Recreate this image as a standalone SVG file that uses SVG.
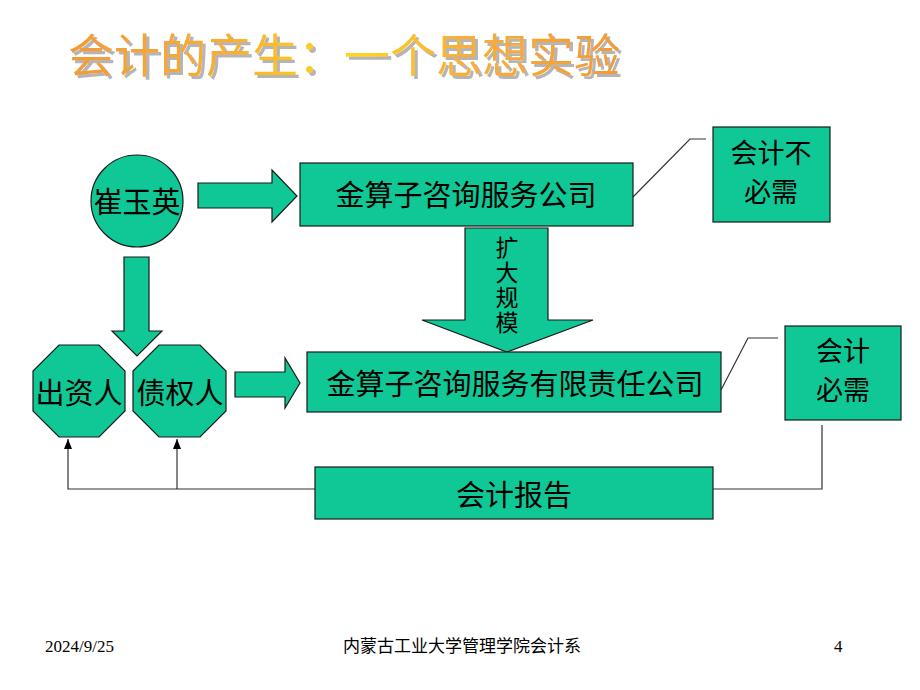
<svg xmlns="http://www.w3.org/2000/svg" width="920" height="690" viewBox="0 0 920 690">
<defs>
<linearGradient id="tg" gradientUnits="userSpaceOnUse" x1="68" y1="0" x2="625" y2="0">
<stop offset="0" stop-color="#F29A3A"/>
<stop offset="0.3" stop-color="#F8B030"/>
<stop offset="0.5" stop-color="#FFD81E"/>
<stop offset="0.7" stop-color="#F8B038"/>
<stop offset="1" stop-color="#F29A3A"/>
</linearGradient>
<filter id="shadow" x="-5%" y="-20%" width="110%" height="140%">
<feDropShadow dx="3" dy="3" stdDeviation="0.3" flood-color="#b5b5b5" flood-opacity="1"/>
</filter>
<marker id="ah" viewBox="0 0 10 10" refX="10" refY="5" markerWidth="10" markerHeight="10" markerUnits="userSpaceOnUse" orient="auto">
<path d="M0,1 L10,5 L0,9 Z" fill="#000"/>
</marker>
<style>
.sh{fill:#0FC896;stroke:#1a1a1a;stroke-width:1.2}
.t{font-family:"Noto Sans CJK SC","Noto Sans",sans-serif;font-size:29px;fill:#000;text-anchor:middle}
.t2{font-family:"Noto Sans CJK SC","Noto Sans",sans-serif;font-size:27px;fill:#000;text-anchor:middle}
.ln{fill:none;stroke:#333;stroke-width:1.2}
.ft{font-family:"Liberation Serif","Noto Sans CJK SC",serif;font-size:17px;fill:#000}
</style>
</defs>
<rect width="920" height="690" fill="#fff"/>

<g id="title">
<text x="68" y="72" font-family="Noto Sans CJK SC,sans-serif" font-size="46" fill="url(#tg)" filter="url(#shadow)">会计的产生：一个思想实验</text>
</g>

<g id="connectors">
<polygon class="sh" points="198,183 272,183 272,170 297,196 272,222 272,208 198,208"/>
<polygon class="sh" points="465,228 548,228 548,320 593,320 507,352 422,320 465,320"/>
<polygon class="sh" points="124,257 149,257 149,331 162,331 137,356 112,331 124,331"/>
<polygon class="sh" points="235,372 285,372 285,358 300,383 285,408 285,397 235,397"/>
<polyline class="ln" points="633,197 690,139 706,139"/>
<polyline class="ln" points="721,390 748,338 778,338"/>
<polyline class="ln" points="822,425 822,489 713,489"/>
<polyline class="ln" points="315,489 68,489 68,439" marker-end="url(#ah)"/>
<polyline class="ln" points="177,489 177,439" marker-end="url(#ah)"/>
<text x="507" y="236" writing-mode="vertical-rl" letter-spacing="2" font-family="Noto Sans CJK SC,sans-serif" font-size="23" fill="#000">扩大规模</text>
</g>

<g id="cuiyuying">
<circle class="sh" cx="137" cy="201" r="46"/>
<text class="t" x="137" y="213">崔玉英</text>
</g>

<g id="company">
<rect class="sh" x="300" y="163" width="333" height="63"/>
<text class="t" x="466" y="206">金算子咨询服务公司</text>
</g>

<g id="not-needed">
<rect class="sh" x="713" y="127" width="117" height="95"/>
<text class="t2" x="771" y="163">会计不<tspan x="771" y="202">必需</tspan></text>
</g>

<g id="investor">
<polygon class="sh" points="59,345 99,345 125,371 125,411 99,437 59,437 33,411 33,371"/>
<text class="t" x="79" y="404">出资人</text>
</g>

<g id="creditor">
<polygon class="sh" points="159,345 200,345 226,371 226,411 200,437 159,437 133,411 133,371"/>
<text class="t" x="180" y="404">债权人</text>
</g>

<g id="ltd">
<rect class="sh" x="307" y="352" width="414" height="60"/>
<text class="t" x="515" y="395">金算子咨询服务有限责任公司</text>
</g>

<g id="needed">
<rect class="sh" x="785" y="326" width="116" height="94"/>
<text class="t2" x="843" y="361">会计<tspan x="843" y="400">必需</tspan></text>
</g>

<g id="report">
<rect class="sh" x="315" y="467" width="398" height="52"/>
<text class="t" x="514" y="506">会计报告</text>
</g>

<g id="footer">
<text class="ft" x="45" y="652">2024/9/25</text>
<text class="ft" x="462" y="652" text-anchor="middle" style="font-family:'Noto Sans CJK SC',sans-serif;font-size:17px">内蒙古工业大学管理学院会计系</text>
<text class="ft" x="834" y="652">4</text>
</g>
</svg>
